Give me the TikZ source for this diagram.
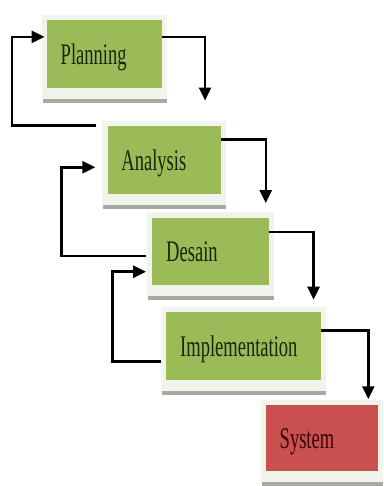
\documentclass[tikz,border=0pt]{standalone}
\usepackage{fontspec}
\setmainfont{Liberation Serif}
\usetikzlibrary{arrows.meta,calc,backgrounds}

\definecolor{stagegreen}{HTML}{9BBB59}
\definecolor{stagered}{HTML}{C9504F}
\definecolor{framecol}{HTML}{F1F4EA}
\definecolor{stripgray}{HTML}{A9A9A4}
\definecolor{inkgreen}{HTML}{182606}
\definecolor{inkred}{HTML}{360606}

\newcommand{\narrowtext}[1]{\scalebox{0.62}[1]{#1}}

\begin{document}
\begin{tikzpicture}[
                x=1pt, y=-1pt,
                every node/.style={minimum height=68pt, inner xsep=14pt, inner ysep=0pt,
                    align=left, text height=21pt, text depth=0pt,
                    font=\fontsize{30}{32}\selectfont, text=inkgreen},
                flow/.style={line width=2.6pt, -{Triangle[length=13pt,width=12pt]}}
            ]

                \foreach \name/\x/\y/\w/\tw/\txt in {plan/105/54/116/88/Planning,
                        anal/165/161/114/86/Analysis, desa/211.5/252.5/117/89/Desain,
                        impl/244.5/347.5/155/127/Implementation} {
                    \node[fill=stagegreen, minimum width=\w pt, text width=\tw pt] (\name) at (\x,\y) {\narrowtext{\txt}};
                }
                \node[fill=stagered, minimum width=113pt, minimum height=66pt, text width=85pt, text=inkred] (sys) at (323.5,440) {\narrowtext{System}};

                \begin{scope}[on background layer]
                    \fill[white] (0,0) rectangle (382,486);
                    \foreach \name in {plan, anal, desa, impl, sys} {
                        \fill[framecol] ($(\name.north west)+(-5,-5)$) rectangle ($(\name.south east)+(5,11)$);
                        \fill[stripgray] ($(\name.south west)+(-4,11)$) rectangle ($(\name.south east)+(5,15)$);
                    }
                \end{scope}
                \useasboundingbox (0,0) rectangle (382,486);

                % forward steps
                \coordinate (down1) at (206,101);
                \coordinate (down2) at (267,204);
                \coordinate (down3) at (315,301);
                \coordinate (down4) at (370,401);
                \draw[flow] (plan.east |- 0,37) -| (down1);
                \draw[flow] (anal.east |- 0,140) -| (down2);
                \draw[flow] (desa.east |- 0,233) -| (down3);
                \draw[flow] (impl.east |- 0,332) -| (down4);

                % back steps
                \draw[flow, shorten <=11pt, shorten >=2pt] (anal.west |- 0,126) -- (12,126) |- (plan.west |- 0,37);
                \draw[flow, shorten <=6pt, shorten >=12pt] (desa.west |- 0,257) -- (62,257) |- (anal.west |- 0,168);
                \draw[flow, shorten <=5pt, shorten >=6pt] (impl.west |- 0,363) -- (113,363) |- (desa.west |- 0,273);
            \end{tikzpicture}
\end{document}
